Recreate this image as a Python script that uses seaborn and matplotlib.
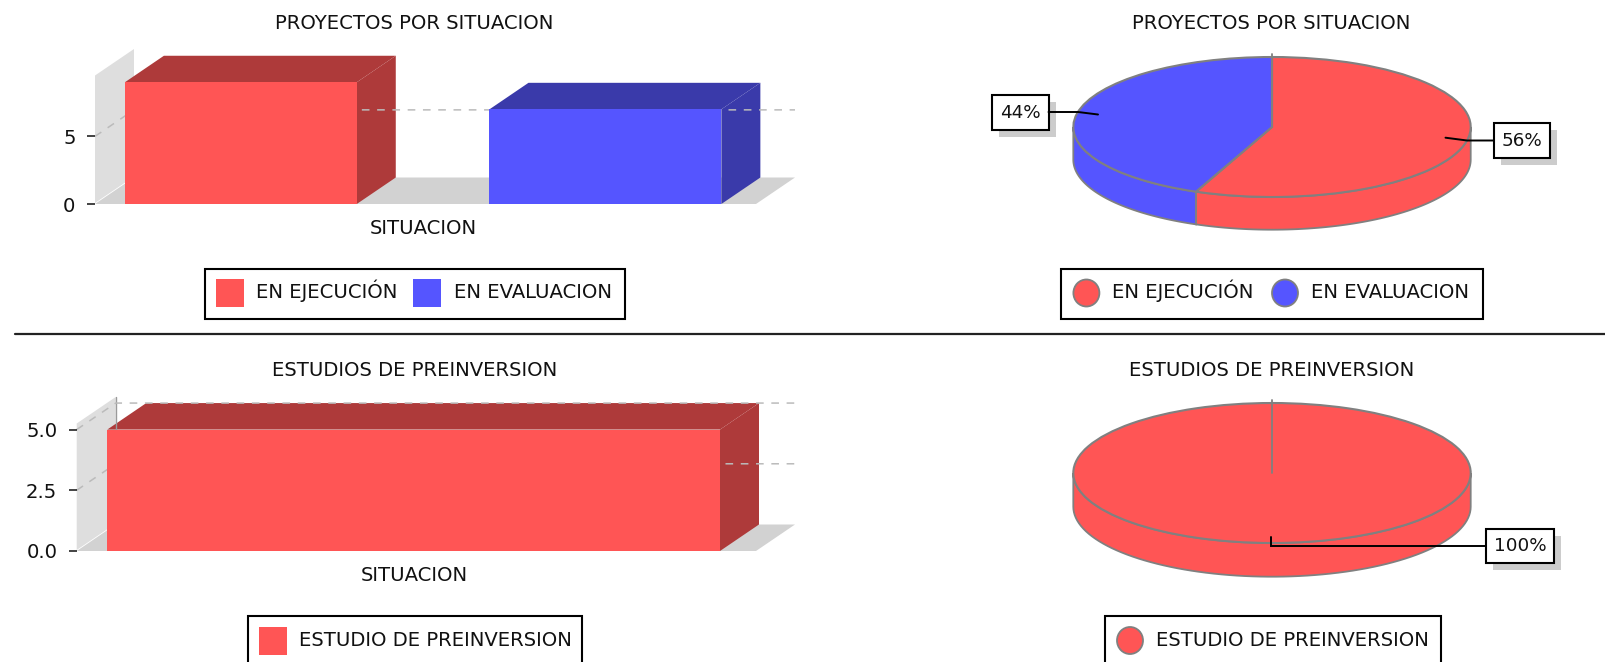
import numpy as np
import matplotlib
matplotlib.use("Agg")
import matplotlib.pyplot as plt
from matplotlib.patches import Polygon, Rectangle, Ellipse
import seaborn as sns

# data
situacion_labels = ["EN EJECUCIÓN", "EN EVALUACION"]
situacion_values = [9, 7]
estudio_labels = ["ESTUDIO DE PREINVERSION"]
estudio_values = [5]

title_top = "PROYECTOS POR SITUACION"
title_bottom = "ESTUDIOS DE PREINVERSION"
xlabel = "SITUACION"

RED = "#FF5555"
BLUE = "#5555FF"
DARK = {RED: "#AE3A3A", BLUE: "#3A3AAA"}
WALL = "#DEDEDE"
FLOOR = "#D2D2D2"
EDGE = "#808080"
TEXT = "#111111"
FS = 14.1
W, H = 1605, 662

sns.set_style("white")
plt.rcParams["font.family"] = ["DejaVu Sans"]

fig = plt.figure(figsize=(W / 100, H / 100), dpi=100)


def full_canvas(z):
    c = fig.add_axes([0, 0, 1, 1], zorder=z)
    c.set_xlim(0, W)
    c.set_ylim(H, 0)
    c.axis("off")
    c.patch.set_alpha(0)
    return c


back = full_canvas(0)
front = full_canvas(5)


def px_axes(left, right, top, bottom):
    a = fig.add_axes([left / W, 1 - bottom / H, (right - left) / W, (bottom - top) / H], zorder=2)
    a.patch.set_alpha(0)
    return a


def to_px(ax, x, y):
    dx, dy = ax.transData.transform((x, y))
    return dx, H - dy


def bar_3d(labels, values, colors, box, xlim, ymax, width, yticks, ticklabels,
           label_x, label_y, pad=8.5, wall_line=False, depth=(39, 26.5)):
    left, right, top, bottom = box
    dx, dy = depth
    ax = px_axes(left, right, top, bottom)
    sns.barplot(x=labels, y=values, hue=labels, palette=dict(zip(labels, colors)),
                width=width, saturation=1, linewidth=0, legend=False, ax=ax)
    ax.set_xlim(*xlim)
    ax.set_ylim(0, ymax)
    ax.set_xticks([])
    ax.set_yticks(yticks)
    ax.set_yticklabels(ticklabels, fontsize=FS, color=TEXT)
    ax.tick_params(axis="y", left=True, length=5.5, width=1.2, pad=pad, color="#222222")
    sns.despine(ax=ax, left=True, bottom=True, top=True, right=True)
    ax.set_xlabel(xlabel, fontsize=FS, color=TEXT)
    ax.xaxis.set_label_coords(label_x, label_y, transform=back.transData)
    ax.xaxis.label.set_verticalalignment("center")

    # side wall and floor
    back.add_patch(Polygon([(left, bottom - 1), (left, top), (left + dx, top - dy), (left + dx, bottom - dy - 1)],
                           fc=WALL, ec="none"))
    back.add_patch(Polygon([(left, bottom), (left + dx, bottom - dy), (right + dx, bottom - dy), (right, bottom)],
                           fc=FLOOR, ec="none"))
    if wall_line:
        back.plot([left + dx, left + dx], [top - dy, bottom - dy], color="#9A9A9A", lw=1)
    # gridlines on the back
    for t in yticks[1:]:
        _, py = to_px(ax, 0, t)
        back.plot([left, left + dx, right + dx], [py, py - dy, py - dy], color="#BBBBBB",
                  lw=1.1, ls=(0, (5, 5)))
    # bar faces from the drawn bars
    for bar, col in zip(ax.patches, colors):
        x0, y1 = to_px(ax, bar.get_x(), bar.get_height())
        x1, y0 = to_px(ax, bar.get_x() + bar.get_width(), 0)
        shade = DARK[col]
        back.add_patch(Polygon([(x0, y1), (x0 + dx, y1 - dy), (x1 + dx, y1 - dy), (x1, y1)], fc=shade, ec="none"))
        back.add_patch(Polygon([(x1, y1), (x1 + dx, y1 - dy), (x1 + dx, y0 - dy), (x1, y0)], fc=shade, ec="none"))
    return ax


def pie_3d(values, colors, cx, cy, rx, ry, depth):
    ax = px_axes(cx - rx, cx + rx, cy - ry, cy + ry)
    ax.pie(values, colors=colors, startangle=90, counterclock=False, radius=1,
           wedgeprops=dict(edgecolor=EDGE, linewidth=1.5, clip_on=False))
    ax.set_aspect("auto")
    ax.set_xlim(-1, 1)
    ax.set_ylim(-1, 1)

    # rim: only the front half of the ellipse shows
    total = sum(values)
    start = 90.0
    for v, col in zip(values, colors):
        end = start - 360.0 * v / total
        lo, hi = end, start
        for shift in (0, 360, -360):
            a = max(lo + shift, 180)
            b = min(hi + shift, 360)
            if b > a:
                t = np.radians(np.linspace(a, b, 80))
                xs = cx + rx * np.cos(t)
                ys = cy - ry * np.sin(t)
                pts = list(zip(xs, ys)) + list(zip(xs[::-1], ys[::-1] + depth))
                back.add_patch(Polygon(pts, fc=col, ec=EDGE, lw=1.3))
        start = end
    # start seam pokes out over the top of the ellipse
    seam_end = cy if len(values) == 1 else cy - ry + 1
    front.plot([cx, cx], [cy - ry - 3, seam_end], color=EDGE, lw=1.3)
    return ax


def callout(text, box, line):
    x0, y0, x1, y1 = box
    front.add_patch(Rectangle((x0 + 7, y0 + 7), x1 - x0, y1 - y0, fc="#CCCCCC", ec="none"))
    front.add_patch(Rectangle((x0, y0), x1 - x0, y1 - y0, fc="white", ec="black", lw=1.5))
    front.plot(*zip(*line), color="black", lw=1.4, solid_joinstyle="miter")
    front.text((x0 + x1) / 2, (y0 + y1) / 2 + 0.5, text, ha="center", va="center", fontsize=FS - 0.9, color=TEXT)


def legend_box(box, labels, colors, marks, text_x, round_marks=False, y=293):
    x0, y0, x1, y1 = box
    front.add_patch(Rectangle((x0, y0), x1 - x0, y1 - y0, fc="white", ec="black", lw=1.5))
    for lab, col, mx, tx in zip(labels, colors, marks, text_x):
        if round_marks:
            front.add_patch(Ellipse((mx, y), 26, 27, fc=col, ec=EDGE, lw=1.3))
        else:
            front.add_patch(Rectangle((mx, y - 14), 28, 28, fc=col, ec="none"))
        front.text(tx, y + 5.5, lab, ha="left", va="baseline", fontsize=FS, color=TEXT)


def percent(values):
    total = sum(values)
    return [f"{v / total:.0%}" for v in values]


top_colors = [RED, BLUE]
bottom_colors = [RED]

bar_3d(situacion_labels, situacion_values, top_colors, (95, 756, 75.5, 204), (-0.4, 1.413), 9.5, 0.636,
       [0, 5], ["0", "5"], 423.5, 228)
bar_3d(estudio_labels, estudio_values, bottom_colors, (76.7, 756, 423.5, 551), (-0.496, 0.504), 5.25, 0.902,
       [0, 2.5, 5], ["0.0", "2.5", "5.0"], 414.3, 575.5, wall_line=True)

pie_3d(situacion_values, top_colors, 1272, 127, 198.7, 70, 32.7)
pie_3d(estudio_values, bottom_colors, 1272, 473, 198.7, 70, 33.7)

top_pct = percent(situacion_values)
bottom_pct = percent(estudio_values)
callout(top_pct[1], (992, 95, 1048.5, 130), [(1048.5, 112), (1078, 112), (1098, 114.5)])
callout(top_pct[0], (1494, 123, 1550, 158), [(1494, 140.5), (1467, 140.5), (1445.5, 137.7)])
callout(bottom_pct[0], (1486, 528.7, 1554.4, 563), [(1486, 546), (1270.5, 546), (1270.5, 536.7)])

for cx, cy, txt in [(414.6, 23.5, title_top), (1271.6, 23.5, title_top),
                    (415, 371, title_bottom), (1271.6, 371, title_bottom)]:
    front.text(cx, cy, txt, ha="center", va="center", fontsize=FS, color=TEXT)

legend_box((204.6, 269, 625, 318.5), situacion_labels, top_colors, [216, 413], [255.8, 454])
legend_box((1061, 269, 1483, 318.5), situacion_labels, top_colors, [1086.4, 1285], [1112.5, 1311], round_marks=True)
legend_box((247.6, 616, 581.6, 669), estudio_labels, bottom_colors, [259], [299], y=640.5)
legend_box((1105, 616, 1441, 669), estudio_labels, bottom_colors, [1130], [1156.5], round_marks=True, y=640.5)

# divider between the two rows
front.plot([15, W], [334, 334], color="#222222", lw=1.6)

fig.savefig("out.png", dpi=100)
